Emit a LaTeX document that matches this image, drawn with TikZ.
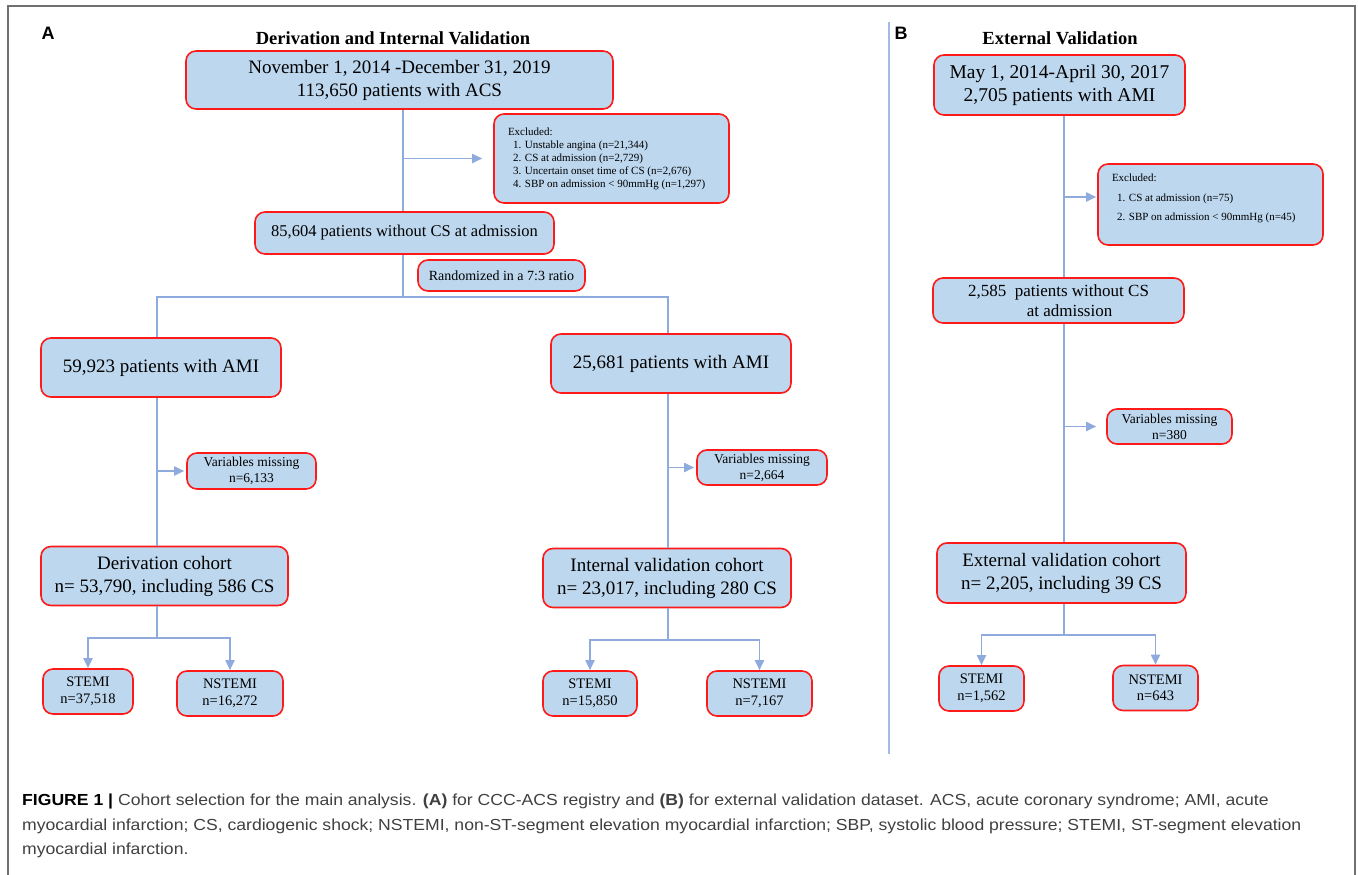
\documentclass[tikz,border=0pt]{standalone}
\usepackage{fontspec}
\setmainfont{Liberation Serif}
\newfontfamily\capfont[FakeStretch=1.10]{Liberation Sans}
\newfontfamily\lblfont{Liberation Sans}
\usetikzlibrary{arrows.meta,calc}
\definecolor{boxfill}{HTML}{BDD7EE}
\definecolor{boxedge}{HTML}{FF1A1A}
\definecolor{flow}{HTML}{8FAADC}
\definecolor{divider}{HTML}{A3BBE4}
\definecolor{framegray}{HTML}{707070}
\definecolor{captext}{HTML}{404040}
\tikzset{
  box/.style={draw=boxedge, fill=boxfill, line width=1.6pt, rounded corners=10pt, align=center, inner sep=0pt, text=black},
  ln/.style={draw=flow, line width=1.8pt},
  arr/.style={ln, -{Triangle[length=10pt,width=9pt]}},
  big/.style={font=\fontsize{19}{23}\selectfont},
  mid/.style={font=\fontsize{16.5}{20}\selectfont},
  small/.style={font=\fontsize{13.5}{16}\selectfont},
  tiny/.style={font=\fontsize{14.5}{16.5}\selectfont},
  ttl/.style={font=\bfseries\fontsize{18.5}{22}\selectfont},
  panel/.style={font=\lblfont\bfseries\fontsize{18}{22}\selectfont},
}
\begin{document}
\begin{tikzpicture}[x=1pt,y=-1pt]
\useasboundingbox (0,0) rectangle (1358,875);
% frame
\draw[framegray, line width=1.4pt] (8,876) -- (8,6) -- (1355,6) -- (1355,876);
% divider
\draw[divider, line width=1.8pt] (889,22) -- (889,754);
% panel labels and titles
\node[panel] (la) at (48,33) {A};
\node[panel] (lb) at (901,33) {B};
\node[ttl] (ta) at (393,38) {Derivation and Internal Validation};
\node[ttl] (tb) at (1060,38) {External Validation};

% ---------- Panel A ----------
\coordinate (ax) at (403,0);
\coordinate (lx) at (157,0);
\coordinate (rx) at (668,0);
\node[box,big,minimum width=427pt,minimum height=58pt] (n1) at (399.5,80) {November 1, 2014 -December 31, 2019\\113,650 patients with ACS};
\node[box,minimum width=235pt,minimum height=89pt] (ex1) at (611.5,158.5) {\parbox{207pt}{\fontsize{11}{13}\selectfont Excluded:\\
\hspace*{5pt}1. Unstable angina (n=21,344)\\
\hspace*{5pt}2. CS at admission (n=2,729)\\
\hspace*{5pt}3. Uncertain onset time of CS (n=2,676)\\
\hspace*{5pt}4. SBP on admission < 90mmHg (n=1,297)}};
\node[box,mid,minimum width=299pt,minimum height=42pt] (n2) at (404.5,233) {85,604 patients without CS at admission};
\node[box,font=\fontsize{14}{16}\selectfont,minimum width=167pt,minimum height=31pt] (rnd) at (501.5,275.5) {Randomized in a 7:3 ratio};
\coordinate (split) at (403,297);
\node[box,big,minimum width=240pt,minimum height=59pt] (ami1) at (161,367.5) {59,923 patients with AMI};
\node[box,big,minimum width=240pt,minimum height=59pt] (ami2) at (671,363.5) {25,681 patients with AMI};
\node[box,small,minimum width=129pt,minimum height=36pt] (vm1) at (251.5,471) {Variables missing\\n=6,133};
\node[box,small,minimum width=130pt,minimum height=35pt] (vm2) at (762,467.5) {Variables missing\\n=2,664};
\node[box,big,minimum width=247pt,minimum height=59pt] (dc) at (164.5,576) {Derivation cohort\\n= 53,790, including 586 CS};
\node[box,big,minimum width=248pt,minimum height=59pt] (ic) at (667,578) {Internal validation cohort\\n= 23,017, including 280 CS};
\coordinate (sp2) at (157,638);
\coordinate (sp3) at (668,640);
\node[box,tiny,minimum width=90pt,minimum height=45pt] (s1) at (88,691.5) {STEMI\\n=37,518};
\node[box,tiny,minimum width=106pt,minimum height=45pt] (ns1) at (230,693.5) {NSTEMI\\n=16,272};
\node[box,tiny,minimum width=94pt,minimum height=45pt] (s2) at (590,693.5) {STEMI\\n=15,850};
\node[box,tiny,minimum width=105pt,minimum height=45pt] (ns2) at (759.5,693.5) {NSTEMI\\n=7,167};

\draw[ln] (n1.south -| ax) -- (n2.north -| ax);
\draw[arr, shorten >=11pt] (ex1.west -| ax) -- (ex1.west);
\draw[ln] (n2.south -| ax) -- (split);
\draw[ln] (ami1.north -| lx) |- (split) -| (ami2.north -| rx);
\draw[ln] (ami1.south -| lx) -- (dc.north -| lx);
\draw[arr, shorten >=2pt] (vm1.west -| lx) -- (vm1.west);
\draw[ln] (ami2.south -| rx) -- (ic.north -| rx);
\draw[arr, shorten >=2pt] (vm2.west -| rx) -- (vm2.west);
\draw[ln] (dc.south -| sp2) -- (sp2);
\draw[arr] (sp2) -| (s1.north);
\draw[arr] (sp2) -| (ns1.north);
\draw[ln] (ic.south -| sp3) -- (sp3);
\draw[arr] (sp3) -| (s2.north);
\draw[arr] (sp3) -| (ns2.north);

% ---------- Panel B ----------
\coordinate (bx) at (1064,0);
\node[box,font=\fontsize{19.5}{23}\selectfont,minimum width=251pt,minimum height=60pt] (b1) at (1059.5,85) {May 1, 2014-April 30, 2017\\2,705 patients with AMI};
\node[box,minimum width=225pt,minimum height=81pt] (ex2) at (1210.5,204.5) {\parbox[c][61pt][t]{197pt}{\fontsize{11}{19.5}\selectfont Excluded:\\
\hspace*{5pt}1. CS at admission (n=75)\\
\hspace*{5pt}2. SBP on admission < 90mmHg (n=45)}};
\coordinate (ea) at (1064,197);
\node[box,mid,font=\fontsize{17}{20}\selectfont,minimum width=251pt,minimum height=45pt] (b2) at (1058.5,300.5) {2,585\ \ patients without CS\\\hspace*{22pt}at admission};
\node[box,small,minimum width=125pt,minimum height=35pt] (vm3) at (1169.5,426.5) {Variables missing\\n=380};
\node[box,big,minimum width=249pt,minimum height=60pt] (ec) at (1061.5,573) {External validation cohort\\n= 2,205, including 39 CS};
\coordinate (sp4) at (1064,635);
\node[box,tiny,minimum width=85pt,minimum height=45pt] (s3) at (981.5,688.5) {STEMI\\n=1,562};
\node[box,tiny,minimum width=85pt,minimum height=45pt] (ns3) at (1155.5,688) {NSTEMI\\n=643};

\draw[ln] (b1.south -| bx) -- (b2.north -| bx);
\draw[arr, shorten >=1pt] (ea) -- (ea -| ex2.west);
\draw[ln] (b2.south -| bx) -- (ec.north -| bx);
\draw[arr, shorten >=10pt] (vm3.west -| bx) -- (vm3.west);
\draw[ln] (ec.south -| sp4) -- (sp4);
\draw[arr] (sp4) -| (s3.north);
\draw[arr] (sp4) -| (ns3.north);

% ---------- Caption ----------
\node[anchor=north west, inner sep=0pt, align=left, text=captext, font=\capfont\fontsize{16}{24.5}\selectfont] (cap) at (22,794) {\textcolor{black}{\textbf{FIGURE 1 |}} Cohort selection for the main analysis. \textbf{(A)} for CCC-ACS registry and \textbf{(B)} for external validation dataset. ACS, acute coronary syndrome; AMI, acute\\
myocardial infarction; CS, cardiogenic shock; NSTEMI, non-ST-segment elevation myocardial infarction; SBP, systolic blood pressure; STEMI, ST-segment elevation\\
myocardial infarction.};
\end{tikzpicture}
\end{document}
